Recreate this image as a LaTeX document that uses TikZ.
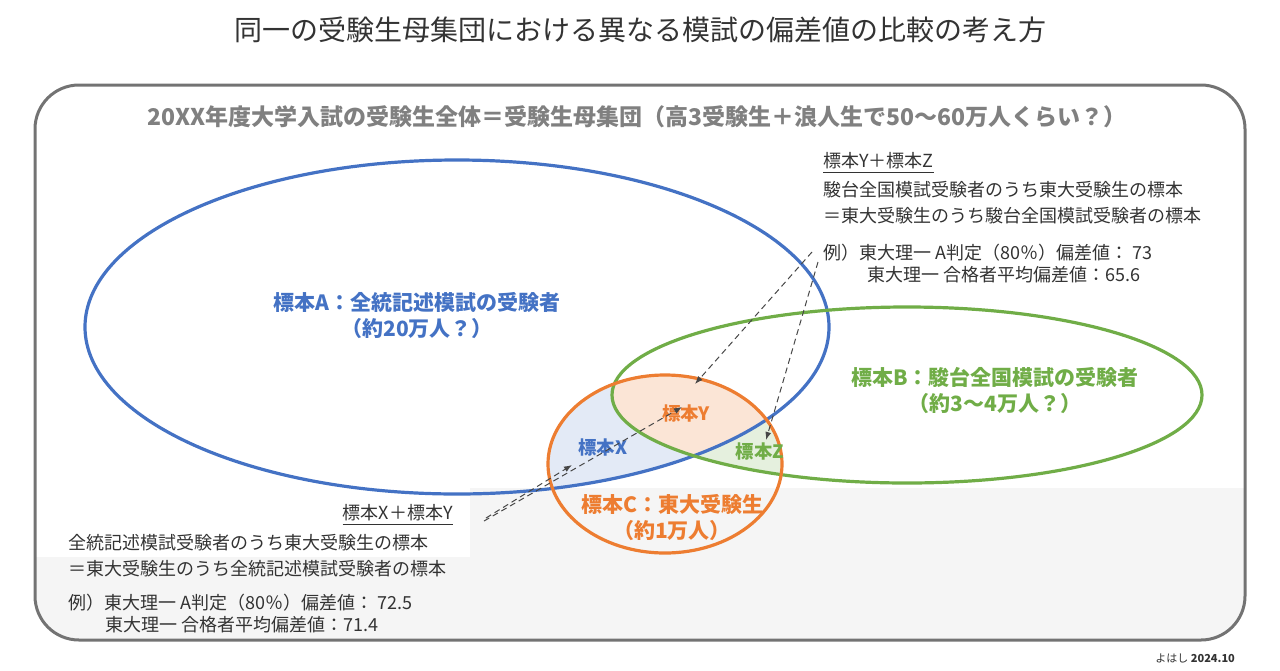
\documentclass[tikz,border=0pt]{standalone}
\usepackage{fontspec}
\setmainfont{Noto Sans CJK JP}
\usetikzlibrary{arrows.meta}
\definecolor{cA}{HTML}{4472C4}
\definecolor{cB}{HTML}{70AD47}
\definecolor{cC}{HTML}{ED7D31}
\definecolor{tx}{HTML}{333333}
\tikzset{
  lbl/.style={font=\fontsize{10.5}{13}\selectfont\bfseries},
  sml/.style={font=\fontsize{9.2}{10}\selectfont\bfseries},
  body/.style={font=\fontsize{9}{13}\selectfont, text=tx, align=left, inner sep=0},
  darr/.style={densely dashed, draw=tx!90, line width=0.5pt, -{Latex[length=4pt,width=3pt]}}
}
\begin{document}
\begin{tikzpicture}[x=0.5pt,y=-0.5pt]
\useasboundingbox (0,0) rectangle (1280,670);
\begin{scope}
\clip[rounded corners=22pt] (35,85) rectangle (1245,640);
\fill[black!4] (35,557) rectangle (1245,640);
\fill[black!4] (470,488) rectangle (1245,640);
\end{scope}
\begin{scope}
\clip (665,464) ellipse (117 and 89);
\begin{scope}\clip (907,395) ellipse (295 and 88);
\fill[cB!18] (0,0) rectangle (1280,670);\end{scope}
\begin{scope}\clip (457,327) ellipse (372 and 167);
\fill[cA!15] (0,0) rectangle (1280,670);
\clip (907,395) ellipse (295 and 88);
\fill[cC!20] (0,0) rectangle (1280,670);\end{scope}
\end{scope}
\draw[black!55, line width=1.5pt, rounded corners=22pt] (35,85) rectangle (1245,640);
\node[font=\fontsize{14}{15}\selectfont, text=tx] (title) at (640,30) {同一の受験生母集団における異なる模試の偏差値の比較の考え方};
\node[font=\fontsize{11.5}{12}\selectfont\bfseries, text=black!50] (hdr) at (637,117) {20XX年度大学入試の受験生全体＝受験生母集団（高3受験生＋浪人生で50〜60万人くらい？）};
\draw[cA, line width=1.6pt] (457,327) ellipse (372 and 167);
\draw[cB, line width=1.6pt] (907,395) ellipse (295 and 88);
\draw[cC, line width=1.6pt] (665,464) ellipse (117 and 89);
\node[lbl, text=cA, align=center] (A) at (417,316) {標本A：全統記述模試の受験者\\（約20万人？）};
\node[lbl, text=cB, align=center] (B) at (995,390) {標本B：駿台全国模試の受験者\\（約3〜4万人？）};
\node[lbl, text=cC, align=center] (C) at (672,518) {標本C：東大受験生\\（約1万人）};
\node[sml, text=cA] (X) at (603,448) {標本X};
\node[sml, text=cC] (Y) at (686,414) {標本Y};
\node[sml, text=cB] (Z) at (760,452) {標本Z};
\node[body, anchor=west] (yz) at (823,163) {\underline{標本Y＋標本Z}};
\node[body, anchor=north west] (yzt) at (823,181) {駿台全国模試受験者のうち東大受験生の標本\\＝東大受験生のうち駿台全国模試受験者の標本};
\node[body, anchor=west] (yze1) at (823,253) {例）東大理一 A判定（80％）偏差値： 73};
\node[body, anchor=west] (yze2) at (867,275) {東大理一 合格者平均偏差値：65.6};
\node[body, anchor=east] (xy) at (453,515) {\underline{標本X＋標本Y}};
\node[body, anchor=north west] (xyt) at (68,534) {全統記述模試受験者のうち東大受験生の標本\\＝東大受験生のうち全統記述模試受験者の標本};
\node[body, anchor=west] (xye1) at (68,603) {例）東大理一 A判定（80％）偏差値： 72.5};
\node[body, anchor=west] (xye2) at (105,625) {東大理一 合格者平均偏差値：71.4};
\node[font=\fontsize{5.5}{6}\selectfont, text=tx, anchor=east] (sig) at (1242,658) {よはし \textbf{2024.10}};
\coordinate (p1) at (812,252);
\coordinate (p2) at (818,262);
\coordinate (q1) at (484,521);
\coordinate (q2) at (486,518);
\coordinate (tY1) at (695,384);
\coordinate (tZ) at (766,440);
\coordinate (tY2) at (682,407);
\coordinate (tX) at (572,465);
\draw[darr] (p1) -- (tY1);
\draw[darr] (p2) -- (tZ);
\draw[darr] (q1) -- (tY2);
\draw[darr] (q2) -- (tX);
\end{tikzpicture}
\end{document}
